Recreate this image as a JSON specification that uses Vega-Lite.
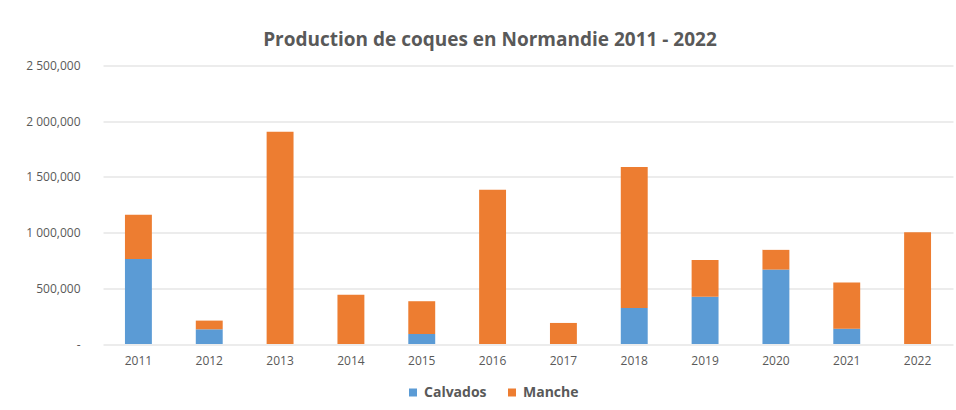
{
  "$schema": "https://vega.github.io/schema/vega-lite/v6.json",
  "autosize": "none",
  "width": 850,
  "height": 278.5,
  "padding": {"left": 103, "top": 65.5, "right": 3, "bottom": 66},
  "background": "#ffffff",
  "config": {
    "locale": {"number": {"decimal": ",", "thousands": " ", "grouping": [3], "currency": ["", ""]}},
    "font": "Open Sans",
    "view": {"stroke": null}
  },
  "title": {
    "text": "Production de coques en Normandie 2011 - 2022",
    "font": "Open Sans",
    "fontSize": 19,
    "fontWeight": "bold",
    "color": "#595959",
    "anchor": "middle",
    "frame": "group",
    "dx": -38,
    "offset": 10
  },
  "data": {
    "values": [
      {"annee": "2011", "departement": "Calvados", "production": 764},
      {"annee": "2011", "departement": "Manche", "production": 396},
      {"annee": "2012", "departement": "Calvados", "production": 132},
      {"annee": "2012", "departement": "Manche", "production": 78},
      {"annee": "2013", "departement": "Calvados", "production": 0},
      {"annee": "2013", "departement": "Manche", "production": 1906},
      {"annee": "2014", "departement": "Calvados", "production": 0},
      {"annee": "2014", "departement": "Manche", "production": 441},
      {"annee": "2015", "departement": "Calvados", "production": 90},
      {"annee": "2015", "departement": "Manche", "production": 294},
      {"annee": "2016", "departement": "Calvados", "production": 0},
      {"annee": "2016", "departement": "Manche", "production": 1385},
      {"annee": "2017", "departement": "Calvados", "production": 0},
      {"annee": "2017", "departement": "Manche", "production": 189},
      {"annee": "2018", "departement": "Calvados", "production": 324},
      {"annee": "2018", "departement": "Manche", "production": 1265},
      {"annee": "2019", "departement": "Calvados", "production": 425},
      {"annee": "2019", "departement": "Manche", "production": 330},
      {"annee": "2020", "departement": "Calvados", "production": 668},
      {"annee": "2020", "departement": "Manche", "production": 177},
      {"annee": "2021", "departement": "Calvados", "production": 138},
      {"annee": "2021", "departement": "Manche", "production": 413},
      {"annee": "2022", "departement": "Calvados", "production": 0},
      {"annee": "2022", "departement": "Manche", "production": 1004}
    ]
  },
  "mark": {"type": "bar"},
  "encoding": {
    "x": {
      "field": "annee",
      "type": "nominal",
      "scale": {"paddingInner": 0.62, "paddingOuter": 0.31},
      "axis": {
        "title": null,
        "labelAngle": 0,
        "domain": false,
        "ticks": false,
        "labelFontSize": 12,
        "labelColor": "#595959",
        "labelPadding": 11
      }
    },
    "y": {
      "field": "production",
      "type": "quantitative",
      "stack": "zero",
      "scale": {"domain": [0, 2500], "nice": false},
      "axis": {
        "title": null,
        "values": [0, 500, 1000, 1500, 2000, 2500],
        "format": ",.3f",
        "labelExpr": "datum.value == 0 ? '-' : datum.label",
        "domain": false,
        "ticks": false,
        "grid": true,
        "gridColor": "#d9d9d9",
        "gridWidth": 1,
        "labelFontSize": 12,
        "labelColor": "#595959",
        "labelPadding": 23
      }
    },
    "order": {"field": "departement", "sort": "ascending"},
    "color": {
      "field": "departement",
      "type": "nominal",
      "scale": {"domain": ["Calvados", "Manche"], "range": ["#5b9bd5", "#ed7d31"]},
      "legend": {
        "title": null,
        "orient": "none",
        "direction": "horizontal",
        "legendX": 303,
        "legendY": 320,
        "symbolType": "square",
        "symbolSize": 64,
        "symbolStrokeWidth": 0,
        "labelFontSize": 14,
        "labelFontWeight": "bold",
        "labelColor": "#595959",
        "columnPadding": 18,
        "labelOffset": 4
      }
    }
  }
}
